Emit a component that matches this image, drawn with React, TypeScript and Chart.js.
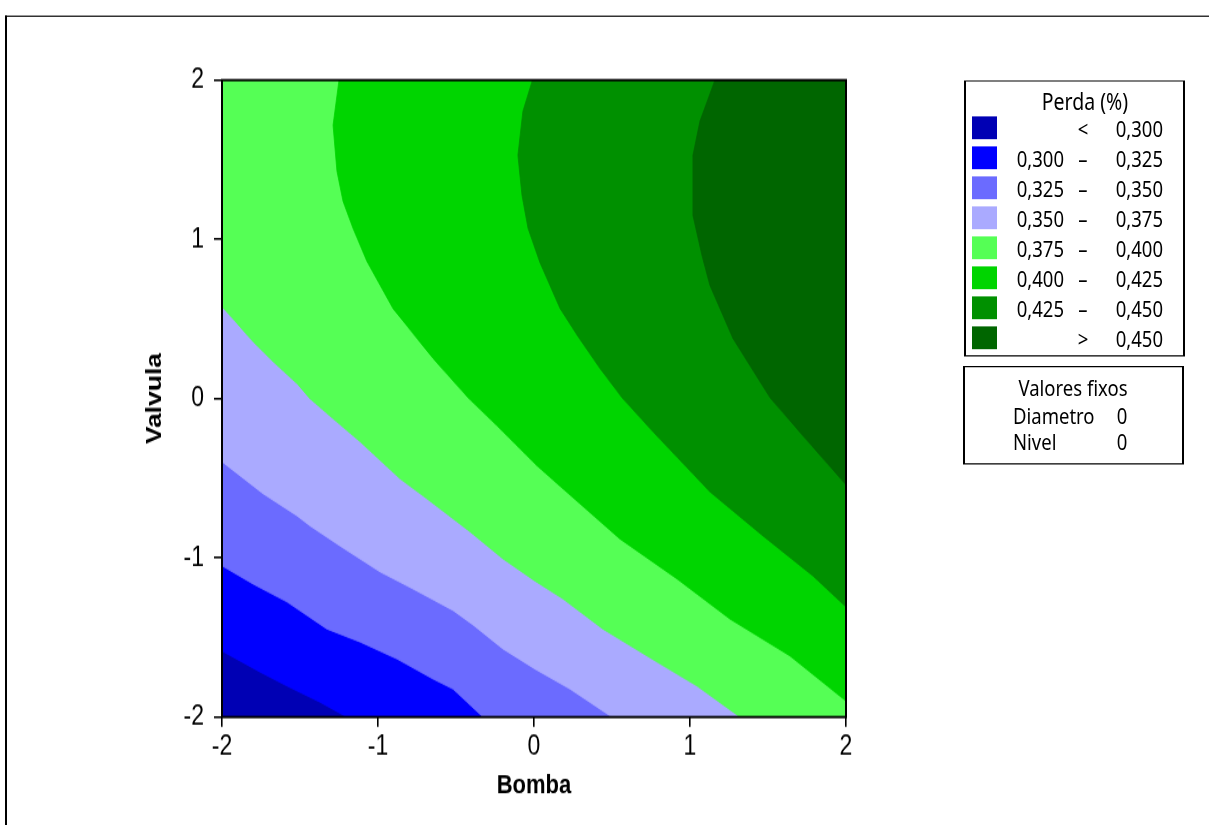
import React, { useEffect, useRef } from "react";
import { Chart, registerables } from "chart.js";

Chart.register(...registerables);

// Axis ticks
const bombaTicks = [-2, -1, 0, 1, 2];
const valvulaTicks = [-2, -1, 0, 1, 2];

// Legend (Perda %)
const legendTitle = "Perda (%)";
const legendLow = ["", "0,300", "0,325", "0,350", "0,375", "0,400", "0,425", ""];
const legendSep = ["<", "–", "–", "–", "–", "–", "–", ">"];
const legendHigh = ["0,300", "0,325", "0,350", "0,375", "0,400", "0,425", "0,450", "0,450"];
const levelColors = ["#0000B4", "#0000FF", "#6B6BFF", "#AAAAFF", "#55FF55", "#00D500", "#009000", "#006600"];

// Fixed values
const fixedNames = ["Diametro", "Nivel"];
const fixedValues = ["0", "0"];

// Contour boundaries (Bomba = x, Valvula = y)
const b300 = [-2, -1.756, -1.583, -1.372, -1.199];
const v300 = [-1.585, -1.717, -1.805, -1.906, -2];

const b325 = [-2, -1.801, -1.583, -1.327, -1.115, -0.878, -0.647, -0.519, -0.327];
const v325 = [-1.05, -1.164, -1.277, -1.447, -1.528, -1.635, -1.761, -1.824, -2];

const b350 = [-2, -1.737, -1.519, -1.436, -1.244, -0.987, -0.776, -0.519, -0.391, -0.199, 0.006, 0.231, 0.5];
const v350 = [-0.396, -0.597, -0.736, -0.799, -0.925, -1.088, -1.195, -1.33, -1.421, -1.572, -1.698, -1.824, -2];

const b375 = [-2, -1.801, -1.673, -1.519, -1.436, -1.288, -1.115, -0.859, -0.686, -0.41, -0.199, 0.006, 0.186, 0.442, 0.788, 1.045, 1.321];
const v375 = [0.579, 0.358, 0.233, 0.094, 0.0, -0.126, -0.27, -0.503, -0.629, -0.836, -1.006, -1.145, -1.258, -1.447, -1.654, -1.805, -2];

const b400 = [-1.25, -1.288, -1.263, -1.224, -1.16, -1.071, -0.904, -0.647, -0.423, -0.237, 0.019, 0.186, 0.551, 0.917, 1.256, 1.641, 2];
const v400 = [2, 1.717, 1.428, 1.239, 1.069, 0.862, 0.566, 0.252, 0.006, -0.17, -0.421, -0.566, -0.881, -1.132, -1.384, -1.616, -1.899];

const b425 = [-0.01, -0.071, -0.103, -0.077, -0.038, 0.038, 0.167, 0.282, 0.423, 0.564, 0.763, 1.128, 1.468, 1.788, 2];
const v425 = [2, 1.805, 1.528, 1.277, 1.069, 0.855, 0.566, 0.39, 0.189, 0.006, -0.208, -0.585, -0.862, -1.113, -1.308];

const b450 = [1.16, 1.064, 1.019, 1.019, 1.077, 1.128, 1.276, 1.513, 1.724, 2];
const v450 = [2, 1.742, 1.528, 1.151, 0.899, 0.711, 0.377, 0.006, -0.233, -0.541];

// Corners that close each region toward the upper-right of the plot
const closeLowB = [2, 2, -2];
const closeLowV = [-2, 2, 2];
const closeHighB = [2];
const closeHighV = [2];

const boundaries = [
  { b: b300, v: v300, cb: closeLowB, cv: closeLowV },
  { b: b325, v: v325, cb: closeLowB, cv: closeLowV },
  { b: b350, v: v350, cb: closeLowB, cv: closeLowV },
  { b: b375, v: v375, cb: closeLowB, cv: closeLowV },
  { b: b400, v: v400, cb: closeHighB, cv: closeHighV },
  { b: b425, v: v425, cb: closeHighB, cv: closeHighV },
  { b: b450, v: v450, cb: closeHighB, cv: closeHighV },
];

const STRETCH = 1.2;
const W = 1209;
const H = 825 / STRETCH;
const PLOT_LEFT = 222;
const PLOT_RIGHT = 846;
const PLOT_TOP = 80 / STRETCH;
const PLOT_BOTTOM = 716 / STRETCH;

const contourPlugin = {
  id: "contourFill",
  beforeDatasetsDraw(chart: any) {
    const { ctx, chartArea } = chart;
    ctx.save();
    ctx.beginPath();
    ctx.rect(chartArea.left, chartArea.top, chartArea.right - chartArea.left, chartArea.bottom - chartArea.top);
    ctx.clip();
    ctx.fillStyle = levelColors[0];
    ctx.fillRect(chartArea.left, chartArea.top, chartArea.right - chartArea.left, chartArea.bottom - chartArea.top);
    chart.data.datasets.forEach((ds: any, i: number) => {
      const meta = chart.getDatasetMeta(i);
      const pts = meta.data;
      if (!pts.length) return;
      ctx.beginPath();
      ctx.moveTo(pts[0].x, pts[0].y);
      for (let j = 1; j < pts.length; j++) ctx.lineTo(pts[j].x, pts[j].y);
      ctx.closePath();
      ctx.fillStyle = ds.regionColor;
      ctx.fill();
      ctx.strokeStyle = ds.regionColor;
      ctx.lineWidth = 0.8;
      ctx.stroke();
    });
    ctx.restore();
  },
  afterDatasetsDraw(chart: any) {
    const { ctx, chartArea } = chart;
    ctx.save();
    ctx.strokeStyle = "#000";
    ctx.lineWidth = 2;
    ctx.strokeRect(chartArea.left, chartArea.top, chartArea.right - chartArea.left, chartArea.bottom - chartArea.top);
    ctx.restore();
  },
};

const axisFont = "Arial, 'Liberation Sans', sans-serif";

function ContourChart() {
  const ref = useRef<HTMLCanvasElement | null>(null);
  useEffect(() => {
    if (!ref.current) return;
    const datasets = boundaries.map((bd, i) => {
      const xs = bd.b.concat(bd.cb);
      const ys = bd.v.concat(bd.cv);
      return {
        label: legendHigh[i],
        data: xs.map((x, k) => ({ x, y: ys[k] })),
        regionColor: levelColors[i + 1],
        pointRadius: 0,
        borderWidth: 0,
        showLine: false,
      };
    });
    const chart = new Chart(ref.current, {
      type: "scatter",
      data: { datasets: datasets as any },
      options: {
        animation: false,
        responsive: true,
        maintainAspectRatio: false,
        events: [],
        layout: { padding: { top: PLOT_TOP, left: 0, right: W - PLOT_RIGHT, bottom: 0 } },
        plugins: { legend: { display: false }, tooltip: { enabled: false } },
        scales: {
          x: {
            type: "linear",
            min: bombaTicks[0],
            max: bombaTicks[bombaTicks.length - 1],
            afterBuildTicks: (s: any) => {
              s.ticks = bombaTicks.map((v) => ({ value: v }));
            },
            afterFit: (s: any) => {
              s.height = H - PLOT_BOTTOM;
            },
            ticks: {
              color: "#000",
              font: { family: axisFont, size: 23 },
              padding: 3,
              maxRotation: 0,
              autoSkip: false,
              callback: (v: any) => String(v),
            },
            grid: { drawOnChartArea: false, drawTicks: true, tickLength: 8, color: "#000", lineWidth: 1.6 },
            border: { display: false },
            title: {
              display: true,
              text: "Bomba",
              color: "#000",
              font: { family: axisFont, size: 22, weight: "bold" },
              padding: { top: 20, bottom: 20 },
            },
          },
          y: {
            type: "linear",
            min: valvulaTicks[0],
            max: valvulaTicks[valvulaTicks.length - 1],
            afterBuildTicks: (s: any) => {
              s.ticks = valvulaTicks.map((v) => ({ value: v }));
            },
            afterFit: (s: any) => {
              s.width = PLOT_LEFT;
            },
            ticks: {
              color: "#000",
              font: { family: axisFont, size: 23 },
              padding: 10,
              autoSkip: false,
              callback: (v: any) => String(v),
            },
            grid: { drawOnChartArea: false, drawTicks: true, tickLength: 8, color: "#000", lineWidth: 1.6 },
            border: { display: false },
            title: {
              display: true,
              text: "Valvula",
              color: "#000",
              font: { family: axisFont, size: 22, weight: "bold" },
              padding: { top: 142, bottom: 142 },
            },
          },
        },
      },
      plugins: [contourPlugin],
    });
    return () => chart.destroy();
  }, []);
  return <canvas ref={ref} />;
}

const legendFont = "'Noto Sans', 'Open Sans', sans-serif";

function txt(text: string, left: number, cy: number, align: "left" | "right" | "center", width = 0, size = 18.5) {
  const h = 24;
  const style: any = {
    position: "absolute",
    top: cy - h / 2,
    height: h,
    lineHeight: h + "px",
    fontFamily: legendFont,
    fontSize: size,
    color: "#000",
    whiteSpace: "pre",
  };
  if (align === "left") style.left = left;
  else if (align === "right") {
    style.left = left - 100;
    style.width = 100;
    style.textAlign = "right";
  } else {
    style.left = left - (width || 100) / 2;
    style.width = width || 100;
    style.textAlign = "center";
  }
  return (
    <div key={text + left + cy} style={style}>
      {text}
    </div>
  );
}

export default function App() {
  const rowCenter = (i: number) => 130 / STRETCH + i * (30 / STRETCH) - 1.5;
  return (
    <div style={{ position: "fixed", left: 0, top: 0, width: W, height: 825, overflow: "hidden", background: "#fff" }}>
      <div
        style={{
          position: "absolute",
          left: 0,
          top: 0,
          width: W,
          height: H,
          transform: `scaleY(${STRETCH})`,
          transformOrigin: "0 0",
        }}
      >
        {/* outer frame */}
        <div
          style={{
            position: "absolute",
            left: 5,
            top: 13,
            width: 1400,
            height: 1000,
            borderLeft: "2px solid #000",
            borderTop: "1.7px solid #000",
          }}
        />
        <div style={{ position: "absolute", left: 0, top: 0, width: W, height: H }}>
          <ContourChart />
        </div>
        {/* legend box */}
        <div
          style={{
            position: "absolute",
            left: 964,
            top: 80 / STRETCH,
            width: 1185 - 964,
            height: (356 - 80) / STRETCH,
            boxSizing: "border-box",
            border: "2px solid #000",
            borderTopWidth: 1.7,
            borderBottomWidth: 1.7,
          }}
        />
        {txt(legendTitle, 1085, 102 / STRETCH, "center", 160, 19.5)}
        {levelColors.map((c, i) => (
          <div
            key={"sw" + i}
            style={{
              position: "absolute",
              left: 972,
              top: rowCenter(i) - 9.6,
              width: 25,
              height: 19.2,
              background: c,
            }}
          />
        ))}
        {legendLow.map((t, i) => (t ? txt(t, 1064, rowCenter(i), "right") : null))}
        {legendSep.map((t, i) => txt(t, 1083, rowCenter(i), "center", 30))}
        {legendHigh.map((t, i) => txt(t, 1163, rowCenter(i), "right"))}
        {/* fixed values box */}
        <div
          style={{
            position: "absolute",
            left: 963,
            top: 366 / STRETCH,
            width: 1184 - 963,
            height: (464 - 366) / STRETCH,
            boxSizing: "border-box",
            border: "2px solid #000",
            borderTopWidth: 1.7,
            borderBottomWidth: 1.7,
          }}
        />
        {txt("Valores fixos", 1073, 388 / STRETCH, "center", 180)}
        {fixedNames.map((n, i) => txt(n, 1013, (415 + i * 27) / STRETCH, "left"))}
        {fixedValues.map((v, i) => txt(v, 1122, (415 + i * 27) / STRETCH, "center", 20))}
      </div>
    </div>
  );
}
